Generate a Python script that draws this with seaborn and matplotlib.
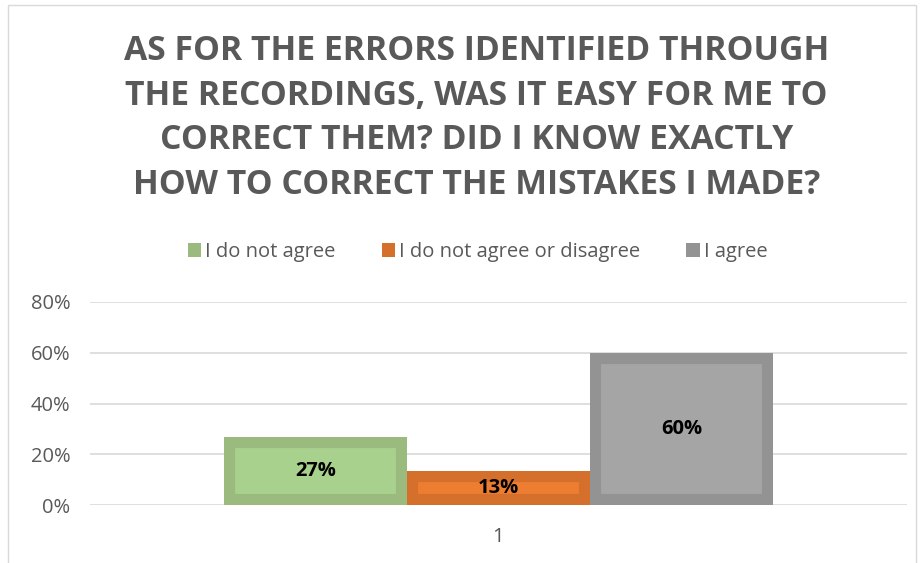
import numpy as np
import pandas as pd
import matplotlib
matplotlib.use("Agg")
import matplotlib.pyplot as plt
import seaborn as sns
from matplotlib.patches import Rectangle
from matplotlib.ticker import PercentFormatter

# data
categories = ["I do not agree", "I do not agree or disagree", "I agree"]
values = [0.267, 0.133, 0.60]
value_labels = ["27%", "13%", "60%"]
group = ["1", "1", "1"]

fill_colors = ["#A9D18E", "#ED7D31", "#A5A5A5"]
edge_colors = ["#9BBB7E", "#D4702C", "#939393"]

sns.set_style("white")
plt.rcParams['font.family'] = ['Open Sans', 'DejaVu Sans']

df = pd.DataFrame({"group": group, "answer": categories, "value": values})

fig = plt.figure(figsize=(9.22, 5.63), dpi=100)
ax = fig.add_axes([0.0976, 0.103, 0.886, 0.3606])

sns.barplot(data=df, x="group", y="value", hue="answer", hue_order=categories,
            palette=fill_colors, width=0.672, ax=ax, legend=False, saturation=1)

# thick inner border: stroke clipped to the bar itself
for patch, ec in zip(ax.patches, edge_colors):
    patch.set_edgecolor(ec)
    patch.set_linewidth(16)
    patch.set_clip_path(patch)

for patch, lab in zip(ax.patches, value_labels):
    cx = patch.get_x() + patch.get_width() / 2
    cy = patch.get_y() + patch.get_height() / 2
    ax.text(cx, cy, lab, ha="center", va="center", fontsize=14.5,
            fontweight="bold", color="black")

ax.set_ylim(0, 0.8)
ax.set_xlim(-0.5, 0.5)
ax.set_yticks([0, 0.2, 0.4, 0.6, 0.8])
ax.yaxis.set_major_formatter(PercentFormatter(1.0, decimals=0))
ax.grid(axis="y", color="#D9D9D9", linewidth=1.2)
ax.set_axisbelow(True)
for s in ax.spines.values():
    s.set_visible(False)
ax.tick_params(axis="both", length=0, labelsize=14.5, colors="#595959", pad=14)
ax.tick_params(axis="x", pad=16)
ax.set_xlabel("")
ax.set_ylabel("")

# legend
handles = [Rectangle((0, 0), 1, 1, facecolor=c, edgecolor="none") for c in edge_colors]
fig.legend(handles, categories, loc="center", bbox_to_anchor=(0.518, 1 - 252 / 563),
           ncol=3, frameon=False, fontsize=14.5, handlelength=0.65, handleheight=0.65,
           handletextpad=0.2, columnspacing=2.3, labelcolor="#595959")

fig.text(0.517, 1 - 118 / 563,
         "AS FOR THE ERRORS IDENTIFIED THROUGH\nTHE RECORDINGS, WAS IT EASY FOR ME TO\n"
         "CORRECT THEM? DID I KNOW EXACTLY\nHOW TO CORRECT THE MISTAKES I MADE?",
         ha="center", va="center", fontsize=24.3, fontweight="bold", color="#595959",
         linespacing=1.4)

# chart border
fig.patches.append(Rectangle((8 / 922, -0.05), 0.985, 1 - 5 / 563 + 0.05,
                             transform=fig.transFigure, fill=False,
                             edgecolor="#D9D9D9", linewidth=1))

fig.savefig("out.png", dpi=100)
